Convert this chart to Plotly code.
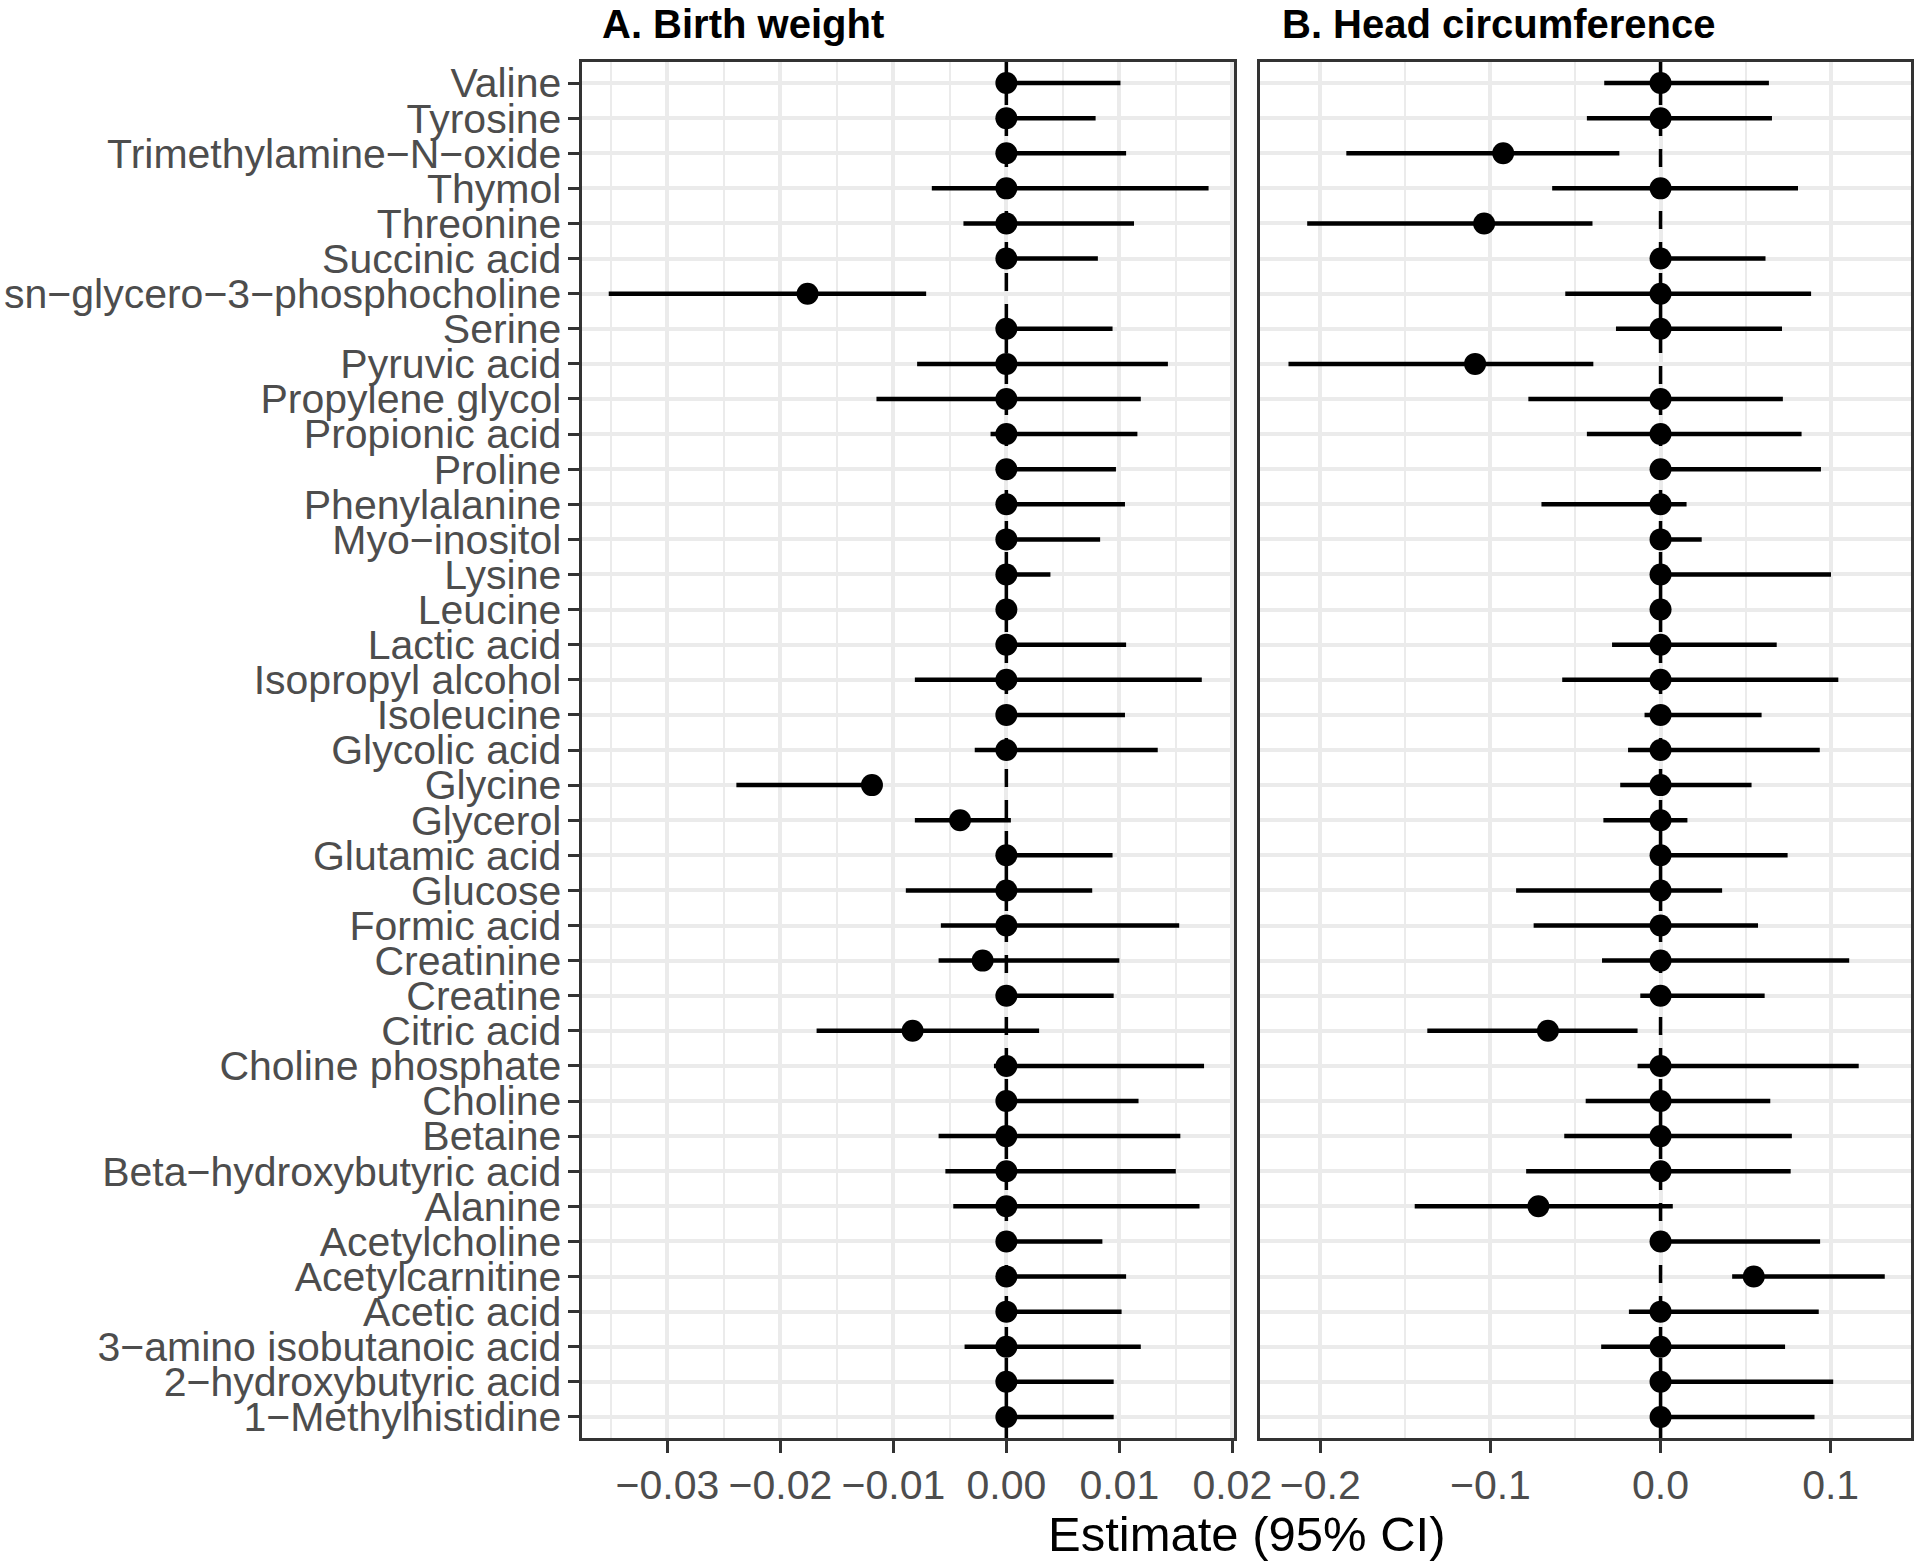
import plotly.graph_objects as go

metabolites = [
    "Valine", "Tyrosine", "Trimethylamine−N−oxide", "Thymol", "Threonine",
    "Succinic acid", "sn−glycero−3−phosphocholine", "Serine", "Pyruvic acid",
    "Propylene glycol", "Propionic acid", "Proline", "Phenylalanine",
    "Myo−inositol", "Lysine", "Leucine", "Lactic acid", "Isopropyl alcohol",
    "Isoleucine", "Glycolic acid", "Glycine", "Glycerol", "Glutamic acid",
    "Glucose", "Formic acid", "Creatinine", "Creatine", "Citric acid",
    "Choline phosphate", "Choline", "Betaine", "Beta−hydroxybutyric acid",
    "Alanine", "Acetylcholine", "Acetylcarnitine", "Acetic acid",
    "3−amino isobutanoic acid", "2−hydroxybutyric acid", "1−Methylhistidine",
]

# A. Birth weight
bw_est = [0, 0, 0, 0, 0, 0, -0.0176, 0, 0, 0, 0, 0, 0, 0, 0, 0, 0, 0, 0, 0,
          -0.0119, -0.0041, 0, 0, 0, -0.0021, 0, -0.0083, 0, 0, 0, 0, 0, 0, 0, 0, 0, 0, 0]
bw_lo = [0, 0, 0, -0.0066, -0.0038, 0, -0.0352, 0, -0.0079, -0.0115, -0.0014, 0, 0, 0, 0, 0,
         0, -0.0081, 0, -0.0028, -0.0239, -0.0081, 0, -0.0089, -0.0058, -0.0060, 0, -0.0168,
         -0.0011, 0, -0.0060, -0.0054, -0.0047, 0, 0, 0, -0.0037, 0, 0]
bw_hi = [0.0101, 0.0079, 0.0106, 0.0179, 0.0113, 0.0081, -0.0071, 0.0094, 0.0143, 0.0119,
         0.0116, 0.0097, 0.0105, 0.0083, 0.0039, 0, 0.0106, 0.0173, 0.0105, 0.0134, -0.0110,
         0.0004, 0.0094, 0.0076, 0.0153, 0.0100, 0.0095, 0.0029, 0.0175, 0.0117, 0.0154,
         0.0150, 0.0171, 0.0085, 0.0106, 0.0102, 0.0119, 0.0095, 0.0095]

# B. Head circumference
hc_est = [0, 0, -0.0925, 0, -0.1037, 0, 0, 0, -0.1090, 0, 0, 0, 0, 0, 0, 0, 0, 0, 0, 0,
          0, 0, 0, 0, 0, 0, 0, -0.0662, 0, 0, 0, 0, -0.0718, 0, 0.0548, 0, 0, 0, 0]
hc_lo = [-0.0331, -0.0433, -0.1847, -0.0637, -0.2077, 0, -0.0560, -0.0262, -0.2187, -0.0777,
         -0.0433, 0, -0.0700, 0, 0, 0, -0.0285, -0.0578, -0.0094, -0.0191, -0.0237, -0.0336,
         0, -0.0849, -0.0746, -0.0344, -0.0119, -0.1371, -0.0135, -0.0440, -0.0566, -0.0790,
         -0.1445, 0, 0.0421, -0.0186, -0.0349, 0, 0]
hc_hi = [0.0637, 0.0655, -0.0242, 0.0808, -0.0400, 0.0617, 0.0885, 0.0714, -0.0395, 0.0719,
         0.0829, 0.0943, 0.0153, 0.0242, 0.1002, 0, 0.0683, 0.1045, 0.0594, 0.0936, 0.0535,
         0.0158, 0.0747, 0.0362, 0.0573, 0.1109, 0.0612, -0.0135, 0.1165, 0.0645, 0.0772,
         0.0765, 0.0072, 0.0938, 0.1318, 0.0930, 0.0732, 0.1015, 0.0905]

bw_ticks = [-0.03, -0.02, -0.01, 0.00, 0.01, 0.02]
hc_ticks = [-0.2, -0.1, 0.0, 0.1]
panel_titles = ["A. Birth weight", "B. Head circumference"]
x_title = "Estimate (95% CI)"

W, H = 1920, 1568


def px(X):
    return X / W


def py(Y):
    return 1 - Y / H


FONT = "Liberation Sans, Arial, Helvetica, sans-serif"
GRID = "#EBEBEB"
DARK = "#333333"

fig = go.Figure()


def add_panel(est, lo, hi, xa, ya):
    fig.add_trace(go.Scatter(
        x=est, y=metabolites, mode="markers",
        marker=dict(size=22, color="black"),
        error_x=dict(type="data", symmetric=False,
                     array=[h - e for h, e in zip(hi, est)],
                     arrayminus=[e - l for e, l in zip(est, lo)],
                     width=0, thickness=4.5, color="black"),
        xaxis=xa, yaxis=ya, showlegend=False, hoverinfo="skip",
    ))


add_panel(bw_est, bw_lo, bw_hi, "x", "y")
add_panel(hc_est, hc_lo, hc_hi, "x2", "y2")

for xr in ["x", "x2"]:
    fig.add_shape(type="line", xref=xr, yref="y domain", x0=0, x1=0, y0=0, y1=1,
                  line=dict(color="black", width=3.5, dash="18px,13px"), layer="above")

xA = [px(582.3), px(1234.1)]
xB = [px(1259.9), px(1911.3)]
yD = [py(1438), py(62)]

axis_common = dict(
    showgrid=True, gridcolor=GRID, gridwidth=4, zeroline=False,
    showline=True, mirror=True, linecolor=DARK, linewidth=2.5,
    ticklen=12, tickwidth=2.5, tickcolor=DARK, automargin=False,
    tickfont=dict(family=FONT, size=41, color="#4D4D4D"),
)

fig.update_layout(
    width=W, height=H, margin=dict(l=0, r=0, t=0, b=0, pad=0),
    paper_bgcolor="white", plot_bgcolor="white",
    xaxis=dict(domain=xA, range=[-0.03754, 0.02016], tickmode="array", tickvals=bw_ticks,
               tickformat=".2f", anchor="y", ticks="outside", ticklabelstandoff=-3,
               minor=dict(dtick=0.005, tick0=0, showgrid=True, gridcolor=GRID, gridwidth=2.2),
               **axis_common),
    xaxis2=dict(domain=xB, range=[-0.2355, 0.1474], tickmode="array", tickvals=hc_ticks,
                tickformat=".1f", anchor="y2", ticks="outside", ticklabelstandoff=-3,
                minor=dict(dtick=0.05, tick0=0, showgrid=True, gridcolor=GRID, gridwidth=2.2),
                **axis_common),
    yaxis=dict(domain=yD, type="category", categoryorder="array",
               categoryarray=list(reversed(metabolites)), range=[-0.6, 38.6],
               tickmode="array", tickvals=metabolites, ticktext=metabolites,
               anchor="x", ticks="outside", ticklabelstandoff=-2, **axis_common),
    yaxis2=dict(domain=yD, type="category", categoryorder="array",
                categoryarray=list(reversed(metabolites)), range=[-0.6, 38.6],
                tickmode="array", tickvals=metabolites,
                anchor="x2", matches="y", showticklabels=False, ticks="",
                **axis_common),
)

fig.add_annotation(text=f"<b>{panel_titles[0]}</b>", xref="paper", yref="paper",
                   x=px(600), y=py(24), xanchor="left", yanchor="middle",
                   showarrow=False, font=dict(family=FONT, size=40, color="black"))
fig.add_annotation(text=f"<b>{panel_titles[1]}</b>", xref="paper", yref="paper",
                   x=px(1280), y=py(24), xanchor="left", yanchor="middle",
                   showarrow=False, font=dict(family=FONT, size=40, color="black"))
fig.add_annotation(text=x_title, xref="paper", yref="paper",
                   x=px(1246.7), y=py(1534), xanchor="center", yanchor="middle",
                   showarrow=False, font=dict(family=FONT, size=49, color="black"))

# remove the default 8px page margin so the 1920x1568 figure fills the window exactly
fig.write_html(
    "out.html",
    config={"displayModeBar": False},
    post_script="document.body.style.margin='0';"
                "document.documentElement.style.overflow='hidden';",
)
